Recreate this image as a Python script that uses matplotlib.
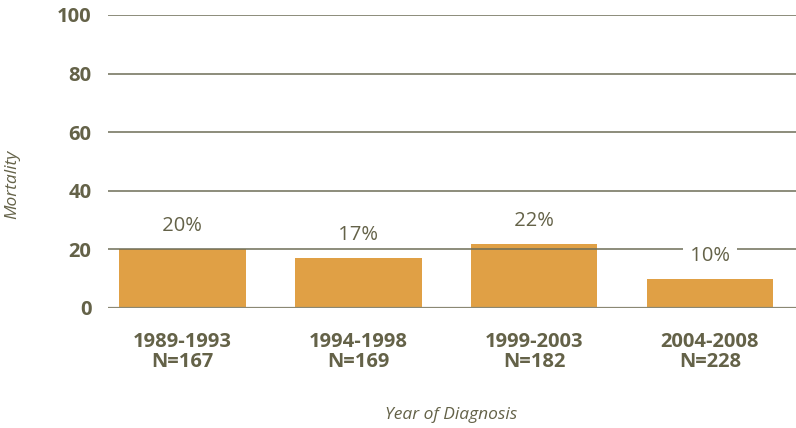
import matplotlib
matplotlib.use("Agg")
import matplotlib.pyplot as plt

# Mortality by period of diagnosis
periods = ["1989-1993", "1994-1998", "1999-2003", "2004-2008"]
counts = [167, 169, 182, 228]
mortality = [20, 17, 22, 10]
yticks = [0, 20, 40, 60, 80, 100]

BAR = "#E0A045"
TEXT = "#646248"
GRID = "#6e6d57"

plt.rcParams["font.family"] = ["Open Sans", "DejaVu Sans"]

fig = plt.figure(figsize=(7.96, 4.28), dpi=100)
ax = fig.add_axes([0.1357, 0.2804, 0.8643, 0.6846])

x = list(range(len(periods)))
ax.bar(x, mortality, width=0.72, color=BAR, zorder=1)

# gridlines sit on top of the bars
for v in yticks[1:]:
    ax.axhline(v, color=GRID, lw=1.1, zorder=2)
ax.axhline(0, color="#8a8874", lw=1.6, zorder=2)

# value labels on a white patch so they break the gridlines
for xi, v in zip(x, mortality):
    ax.annotate(f" {v}% ", (xi, v), xytext=(0, 16.5), textcoords="offset points",
                ha="center", va="center", fontsize=14.5, color=TEXT, zorder=5,
                bbox=dict(boxstyle="square,pad=0.08", fc="white", ec="none"))

ax.set_xlim(-0.424, 3.49)
ax.set_ylim(0, 100)
ax.set_yticks(yticks)
ax.set_yticklabels([str(t) for t in yticks], fontsize=14.5, fontweight="bold", color=TEXT)
ax.set_xticks(x)
ax.set_xticklabels([f"{p}\nN={n}" for p, n in zip(periods, counts)],
                   fontsize=14.5, fontweight="bold", color=TEXT, linespacing=1.05)
ax.tick_params(axis="y", length=0, pad=12)
ax.tick_params(axis="x", length=0, pad=17)
for s in ax.spines.values():
    s.set_visible(False)

fig.text(0.016, 0.57, "Mortality", rotation=90, ha="center", va="center",
         fontsize=12.5, style="italic", color=TEXT)
fig.text(0.567, 0.03, "Year of Diagnosis", ha="center", va="center",
         fontsize=12.5, style="italic", color=TEXT)

fig.savefig("out.png", dpi=100)
